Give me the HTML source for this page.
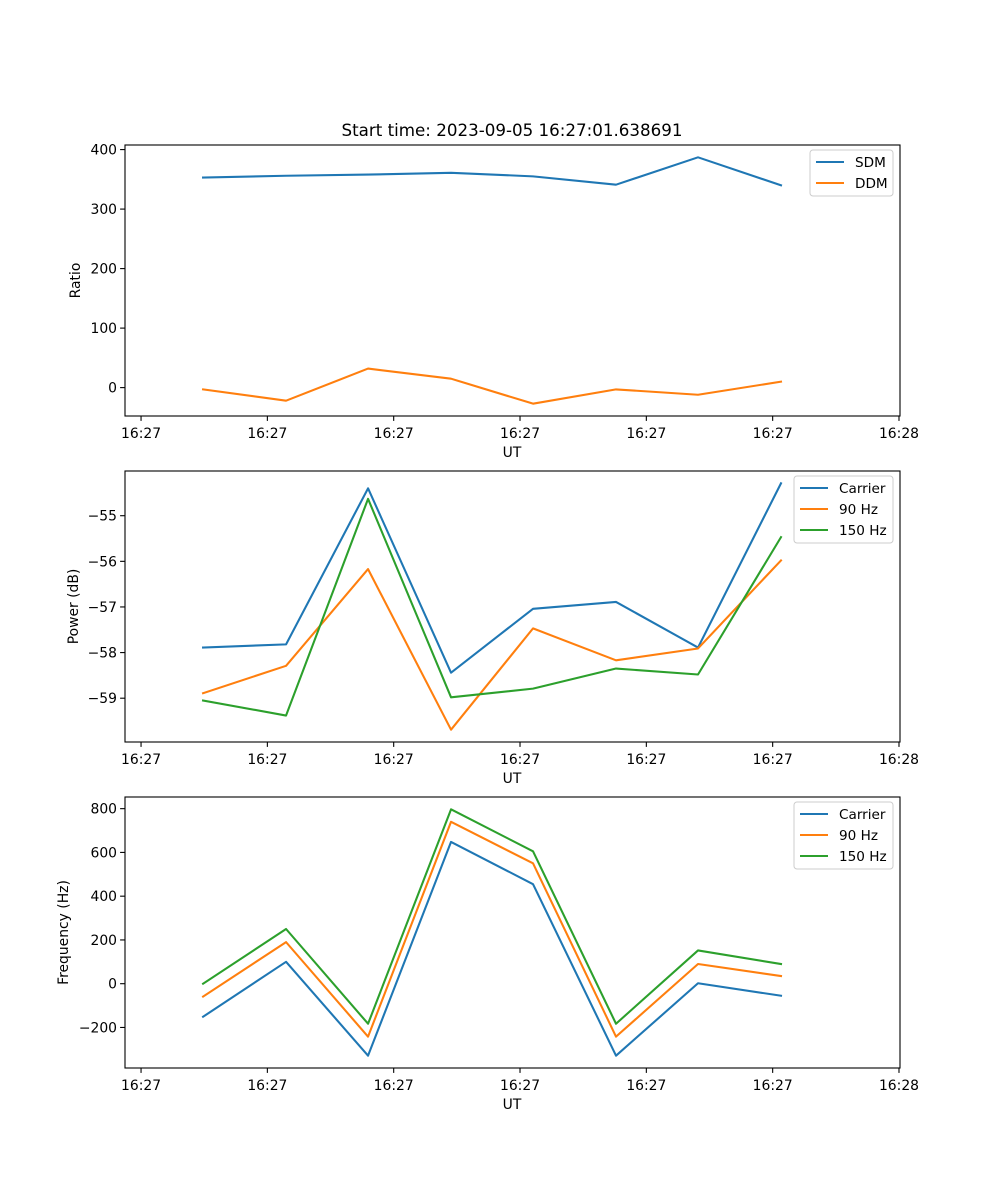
<!DOCTYPE html>
<html><head><meta charset="utf-8"><style>
body{margin:0;background:#fff}
svg{display:block;font-family:"DejaVu Sans","Liberation Sans",sans-serif}
</style></head><body>
<svg id="fig" width="1000" height="1200" viewBox="0 0 1000 1200" xmlns="http://www.w3.org/2000/svg">
<rect width="1000" height="1200" fill="#fff"/>
<text x="512" y="136" font-size="16.7" text-anchor="middle">Start time: 2023-09-05 16:27:01.638691</text>
</svg>
<script>
const times = [4.91, 11.48, 17.97, 24.54, 31.03, 37.60, 44.09, 50.66];
const xTicks = [0, 10, 20, 30, 40, 50, 60];
const xTickLabels = ["16:27","16:27","16:27","16:27","16:27","16:27","16:28"];
const sdm = [353, 356, 358, 361, 355, 341, 387, 340];
const ddm = [-3, -22, 32, 15, -27, -3, -12, 10];
const pwrCarrier = [-57.89, -57.82, -54.40, -58.44, -57.04, -56.89, -57.89, -54.29];
const pwr90 = [-58.89, -58.29, -56.17, -59.69, -57.47, -58.17, -57.91, -55.98];
const pwr150 = [-59.05, -59.38, -54.63, -58.98, -58.79, -58.35, -58.48, -55.47];
const frqCarrier = [-151, 100, -329, 648, 455, -329, 2, -55];
const frq90 = [-59, 190, -242, 740, 550, -242, 90, 35];
const frq150 = [0, 250, -183, 797, 605, -183, 152, 90];
const ratioTicks = [0, 100, 200, 300, 400];
const powerTicks = [-55, -56, -57, -58, -59];
const freqTicks = [-200, 0, 200, 400, 600, 800];

const NS = "http://www.w3.org/2000/svg";
const svg = document.getElementById('fig');
const C = ['#1f77b4', '#ff7f0e', '#2ca02c'];
function el(tag, attrs, parent, txt){
  const e = document.createElementNS(NS, tag);
  for (const k in attrs) e.setAttribute(k, attrs[k]);
  if (txt !== undefined) e.textContent = txt;
  (parent || svg).appendChild(e);
  return e;
}
function fmt(v){ return v < 0 ? '\u2212' + Math.abs(v) : String(v); }

function panel(cfg){
  const L = 125, R = 900, T = cfg.top, B = cfg.top + 271;
  const g = el('g', {});
  
  
  const xmin = -1.27, xmax = 60.08;
  const xs = t => L + (t - xmin) / (xmax - xmin) * (R - L);
  let lo = Infinity, hi = -Infinity;
  cfg.series.forEach(s => s.vals.forEach(v => { lo = Math.min(lo, v); hi = Math.max(hi, v); }));
  const m = (hi - lo) * 0.05; lo -= m; hi += m;
  const ys = v => B - (v - lo) / (hi - lo) * (B - T);
  cfg.series.forEach((s, i) => {
    const p = el('polyline', {points: s.vals.map((v, j) => xs(times[j]).toFixed(2) + ',' + ys(v).toFixed(2)).join(' '),
      fill: 'none', stroke: C[i], 'stroke-width': 2.08, 'stroke-linejoin': 'round', 'stroke-linecap': 'square'}, g);
    
    
  });
  const frame = el('rect', {x: L, y: T, width: R - L, height: B - T, fill: 'none', stroke: '#000', 'stroke-width': 1.1}, g);
  
  
  xTicks.forEach((t, i) => {
    const x = xs(t);
    el('line', {x1: x, x2: x, y1: B, y2: B + 4.9, stroke: '#000', 'stroke-width': 1.1}, g);
    const tl = el('text', {x: x, y: B + 22, 'font-size': 13.9, 'text-anchor': 'middle'}, g, xTickLabels[i]);
    
    
  });
  cfg.ticks.forEach(v => {
    const y = ys(v);
    el('line', {x1: L - 4.9, x2: L, y1: y, y2: y, stroke: '#000', 'stroke-width': 1.1}, g);
    const tl = el('text', {x: L - 8, y: y + 5, 'font-size': 13.9, 'text-anchor': 'end'}, g, fmt(v));
    
    
  });
  const xl = el('text', {x: 512, y: B + 41, 'font-size': 13.9, 'text-anchor': 'middle'}, g, 'UT');
  
  
  const yl = el('text', {x: 0, y: 0, 'font-size': 13.9, 'text-anchor': 'middle',
    transform: 'translate(' + cfg.ylx + ',' + ((T + B) / 2) + ') rotate(-90)'}, g, cfg.ylabel);
  
  
  const n = cfg.series.length;
  const lw = cfg.legW, lx = R - 7 - lw, ly = T + 5, lh = 4 + n * 21;
  const lg = el('g', {}, g);
  
  
  el('rect', {x: lx, y: ly, width: lw, height: lh, rx: 3, fill: '#fff', 'fill-opacity': 0.8, stroke: '#ccc', 'stroke-width': 1}, lg);
  cfg.series.forEach((s, i) => {
    const yy = ly + 12 + i * 21;
    el('line', {x1: lx + 6, x2: lx + 34, y1: yy, y2: yy, stroke: C[i], 'stroke-width': 2.08}, lg);
    const t = el('text', {x: lx + 45, y: yy + 5, 'font-size': 13.6}, lg, s.label);
    
    
  });
}

panel({name: 'ratio-panel', top: 145, ylabel: 'Ratio', ylx: 80, ticks: ratioTicks, legW: 83,
  series: [{key: 'sdm', label: 'SDM', vals: sdm}, {key: 'ddm', label: 'DDM', vals: ddm}]});
panel({name: 'power-panel', top: 471, ylabel: 'Power (dB)', ylx: 78, ticks: powerTicks, legW: 99,
  series: [{key: 'carrier', label: 'Carrier', vals: pwrCarrier}, {key: '90hz', label: '90 Hz', vals: pwr90}, {key: '150hz', label: '150 Hz', vals: pwr150}]});
panel({name: 'frequency-panel', top: 797, ylabel: 'Frequency (Hz)', ylx: 68, ticks: freqTicks, legW: 99,
  series: [{key: 'carrier', label: 'Carrier', vals: frqCarrier}, {key: '90hz', label: '90 Hz', vals: frq90}, {key: '150hz', label: '150 Hz', vals: frq150}]});
</script>
</body></html>
